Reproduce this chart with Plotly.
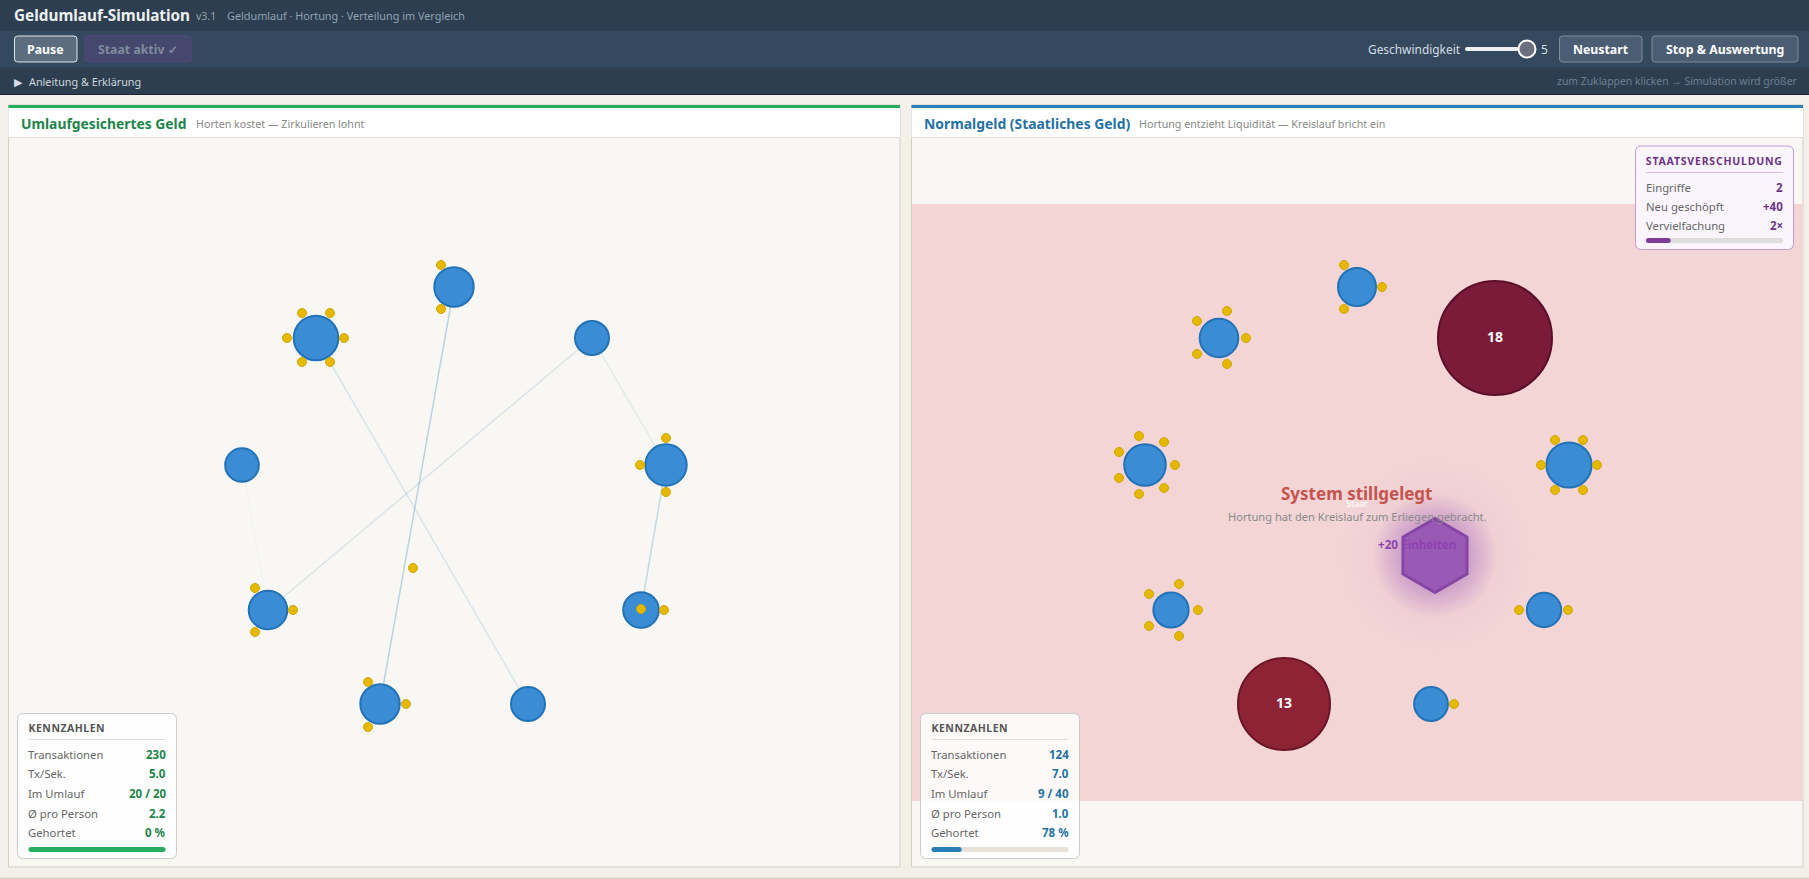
import plotly.graph_objects as go

W, H = 1809, 879
FONT = "Noto Sans"

# Left panel: people on the ring
left_x = [454, 316, 592, 242, 666, 268, 641, 380, 528]
left_y = [287, 338, 338, 465, 465, 610, 610, 704, 704]
left_r = [20.7, 23.3, 18, 17.8, 21.7, 20.3, 18.8, 20.7, 18]
# node a, node b, strength
left_edges = [(0, 7, 0.30), (1, 8, 0.15), (2, 5, 0.15), (2, 4, 0.10), (4, 6, 0.25), (3, 5, 0.03)]
left_coins_x = [302, 330, 287, 344, 302, 330, 441, 441, 666, 640, 666, 255, 293, 255,
                368, 406, 368, 641, 664, 413]
left_coins_y = [313, 313, 338, 338, 362, 362, 265, 309, 438, 465, 492, 588, 610, 632,
                682, 704, 727, 609, 610, 568]

# Right panel
right_x = [1357, 1219, 1145, 1569, 1171, 1544, 1431]
right_y = [287, 338, 465, 465, 610, 610, 704]
right_r = [20, 20.3, 21.8, 23.6, 18.6, 18.2, 17.9]
right_coins_x = [1344, 1382, 1344, 1227, 1197, 1246, 1197, 1227, 1139, 1164, 1119, 1175, 1119, 1164, 1139,
                 1555, 1583, 1541, 1597, 1555, 1583, 1179, 1149, 1198, 1149, 1179, 1519, 1568, 1454]
right_coins_y = [265, 287, 309, 311, 321, 338, 354, 364, 436, 442, 452, 465, 478, 488, 494,
                 440, 440, 465, 465, 490, 490, 584, 594, 610, 626, 636, 610, 610, 704]

# Hoarders
hoard_x = [1495, 1284]
hoard_y = [338, 704]
hoard_r = [58, 47]
hoard_values = ["18", "13"]
hoard_fill = ["#7a1b3a", "#8e2335"]
hoard_line = ["#5c0f2a", "#6b1528"]

staat_x = [1435]
staat_y = [555.5]

stat_labels = ["Transaktionen", "Tx/Sek.", "Im Umlauf", "Ø pro Person", "Gehortet"]
left_stat_values = ["230", "5.0", "20 / 20", "2.2", "0 %"]
right_stat_values = ["124", "7.0", "9 / 40", "1.0", "78 %"]
left_hoarded = 0
right_hoarded = 78

debt_labels = ["Eingriffe", "Neu geschöpft", "Vervielfachung"]
debt_values = ["2", "+40", "2×"]
debt_fill_pct = 18

shapes = []
annotations = []


def rect(x0, y0, x1, y1, fill, line=None, width=1):
    shapes.append(dict(type="rect", x0=x0, y0=y0, x1=x1, y1=y1, fillcolor=fill,
                       line=dict(color=line, width=width) if line else dict(width=0), layer="below"))


# rounded box, plotly rects have no radius so build the path
def round_rect(x0, y0, x1, y1, r, fill, line=None, width=1):
    path = (f"M{x0+r},{y0} L{x1-r},{y0} Q{x1},{y0} {x1},{y0+r} L{x1},{y1-r} Q{x1},{y1} {x1-r},{y1} "
            f"L{x0+r},{y1} Q{x0},{y1} {x0},{y1-r} L{x0},{y0+r} Q{x0},{y0} {x0+r},{y0} Z")
    shapes.append(dict(type="path", path=path, fillcolor=fill,
                       line=dict(color=line, width=width) if line else dict(width=0), layer="below"))


def text(x, y, s, size, color, anchor="left", bold=False):
    annotations.append(dict(x=x, y=y, xref="x", yref="y", text=s, showarrow=False, xanchor=anchor,
                            yanchor="middle", borderpad=0, borderwidth=0,
                            font=dict(family=FONT, size=size, color=color, weight=700 if bold else 400)))


def button(x0, x1, label, fill, line, color):
    round_rect(x0, 36, x1, 62, 3, fill, line)
    text((x0 + x1) / 2, 49, label, 12.3, color, "center", True)


def stat_box(x0, labels, values, color, hoarded, bar_color):
    x1 = x0 + 159
    round_rect(x0, 713.5, x1, 858.5, 6, "rgba(255,255,255,0.85)", "#cccccc")
    # centred: the letter spacing below grows to both sides
    text(x0 + 49, 728, "KENNZAHLEN", 10.5, "#555555", "center", True)
    rect(x0 + 11, 739, x1 - 11, 740, "#dddddd")
    for lab, val, y in zip(labels, values, [754, 773, 793, 813, 832]):
        text(x0 + 10, y, lab, 11.3, "#666666")
        text(x1 - 11, y, val, 11.5, color, "right", True)
    round_rect(x0 + 11, 847, x1 - 11, 852, 2.5, "#e8e2d9")
    round_rect(x0 + 11, 847, x0 + 11 + 137 * (100 - hoarded) / 100, 852, 2.5, bar_color)


# page and top bars
rect(0, 0, W, H, "#f3f0e9")
rect(0, 877.5, W, 879, "#d8d3c8")
rect(0, 0, W, 31, "#2c3e50")
rect(0, 31, W, 67, "#34495e")
rect(0, 67, W, 94, "#2c3e50")
rect(0, 94, W, 95, "#1a252f")

text(14, 15, "Geldumlauf-Simulation", 15.3, "#ecf0f1", bold=True)
text(196, 16, "v3.1", 10.5, "#95a5a6")
text(227, 15, "Geldumlauf · Hortung · Verteilung im Vergleich", 10.85, "#8fa3b3")

button(14.5, 77, "Pause", "#5c6d7f", "#dfe5ea", "#ffffff")
button(85, 191, "Staat aktiv ✓", "#45476c", "#54477f", "#7f8b9e")
button(1559.5, 1642, "Neustart", "#4b5d73", "#7f8d9b", "#ffffff")
button(1652, 1798, "Stop & Auswertung", "#4b5d73", "#7f8d9b", "#ffffff")

text(1368, 49, "Geschwindigkeit", 11.9, "#d5dde3")
round_rect(1465, 47, 1527, 51, 2, "#ecf0f1")
text(1541, 49, "5", 12, "#d5dde3")

text(14, 81, "▶", 11, "#d5dde3")
text(29, 81, "Anleitung & Erklärung", 10.8, "#cfd8dc")
text(1798, 81, "zum Zuklappen klicken → Simulation wird größer", 10.4, "#6f8091", "right")

# panels
for x0, x1, bar in [(8.5, 900, "#27ae60"), (911.5, 1803, "#2980b9")]:
    rect(x0, 105, x1, 867, "#f9f7f3", "#d5cfc2")
    rect(x0, 108, x1, 137, "#ffffff")
    rect(x0, 137, x1, 138, "#e3dfd6")
    rect(x0, 105, x1, 108, bar)

text(21, 123, "Umlaufgesichertes Geld", 13.85, "#1e8449", bold=True)
text(196, 124, "Horten kostet — Zirkulieren lohnt", 10.7, "#888888")
text(924, 123, "Normalgeld (Staatliches Geld)", 13.9, "#2471a3", bold=True)
text(1139, 124, "Hortung entzieht Liquidität — Kreislauf bricht ein", 10.7, "#888888")

# red zone of the stopped system
rect(912, 204, 1802.5, 801, "#f3d5d6")

stat_box(17.5, stat_labels, left_stat_values, "#1e8449", left_hoarded, "#27ae60")
stat_box(920.5, stat_labels, right_stat_values, "#2471a3", right_hoarded, "#2980b9")

# debt box
round_rect(1635.5, 146, 1793.5, 249.5, 6, "#faf5fd", "#c39bd3")
text(1714, 161, "STAATSVERSCHULDUNG", 10.5, "#6c3483", "center", True)
rect(1646, 172, 1783, 173, "#d7bde2")
for lab, val, y in zip(debt_labels, debt_values, [187, 206, 225]):
    text(1646, y, lab, 11.3, "#666666")
    text(1783, y, val, 11.5, "#6c3483", "right", True)
round_rect(1646, 238, 1783, 243, 2.5, "#dddddd")
round_rect(1646, 238, 1646 + 137 * debt_fill_pct / 100, 243, 2.5, "#7d3c98")

fig = go.Figure()

for a, b, strength in left_edges:
    fig.add_trace(go.Scatter(x=[left_x[a], left_x[b]], y=[left_y[a], left_y[b]], mode="lines",
                             line=dict(color=f"rgba(41,128,185,{strength})", width=1.5)))

node_marker = dict(opacity=1, color="#3a8dd5", line=dict(color="#2272b5", width=2))
fig.add_trace(go.Scatter(x=left_x, y=left_y, mode="markers",
                         marker=dict(size=[2 * r - 2 for r in left_r], **node_marker)))
fig.add_trace(go.Scatter(x=right_x, y=right_y, mode="markers",
                         marker=dict(size=[2 * r - 2 for r in right_r], **node_marker)))

coin_marker = dict(size=9, color="#e6b800", line=dict(color="#cfa600", width=1))
fig.add_trace(go.Scatter(x=left_coins_x, y=left_coins_y, mode="markers", marker=coin_marker))
fig.add_trace(go.Scatter(x=right_coins_x, y=right_coins_y, mode="markers", marker=coin_marker))

fig.add_trace(go.Scatter(x=hoard_x, y=hoard_y, mode="markers+text", text=hoard_values,
                         textfont=dict(family=FONT, size=14, color="#ffffff", weight=700),
                         marker=dict(size=[2 * r - 2 for r in hoard_r], color=hoard_fill, opacity=1,
                                     line=dict(color=hoard_line, width=2))))

# glow around the state hexagon, radial gradient colour is the centre one
for size, alpha in [(195, 0.12), (125, 0.8)]:
    fig.add_trace(go.Scatter(x=staat_x, y=staat_y, mode="markers",
                             marker=dict(size=size, color="rgba(155,89,182,0)", line=dict(width=0),
                                         gradient=dict(type="radial", color=f"rgba(155,89,182,{alpha})"))))
fig.add_trace(go.Scatter(x=staat_x, y=staat_y, mode="markers",
                         marker=dict(size=74, symbol="hexagon", color="#9b59b6",
                                     line=dict(color="#8646a6", width=3))))

text(1357, 493, "System stillgelegt", 17, "#c5544e", "center", True)
text(1357, 503, "Staat", 9, "#ffffff", "center")
text(1357, 516, "Hortung hat den Kreislauf zum Erliegen gebracht.", 11.1, "#8a8a8a", "center")
text(1378, 544, "+20 Einheiten", 11.7, "#8e44ad", bold=True)

# slider thumb
fig.add_trace(go.Scatter(x=[1527], y=[49], mode="markers",
                         marker=dict(size=17, color="#6b6f80", line=dict(color="#ffffff", width=2))))

fig.update_layout(
    width=W, height=H, autosize=False, showlegend=False, hovermode=False,
    margin=dict(l=0, r=0, t=0, b=0), paper_bgcolor="#f3f0e9", plot_bgcolor="#f3f0e9",
    font=dict(family=FONT),
    xaxis=dict(range=[0, W], visible=False, fixedrange=True),
    yaxis=dict(range=[H, 0], visible=False, fixedrange=True),
    shapes=shapes, annotations=annotations,
)

# plotly has no letter spacing option for annotations
post_script = """
document.body.style.margin='0';document.body.style.overflow='hidden';
document.querySelectorAll('.annotation-text').forEach(function(t){
  if(t.textContent==='KENNZAHLEN'){t.style.letterSpacing='0.5px';}
  if(t.textContent==='STAATSVERSCHULDUNG'){t.style.letterSpacing='0.8px';}
});
"""
fig.write_html("out.html", config=dict(displayModeBar=False), post_script=post_script)
